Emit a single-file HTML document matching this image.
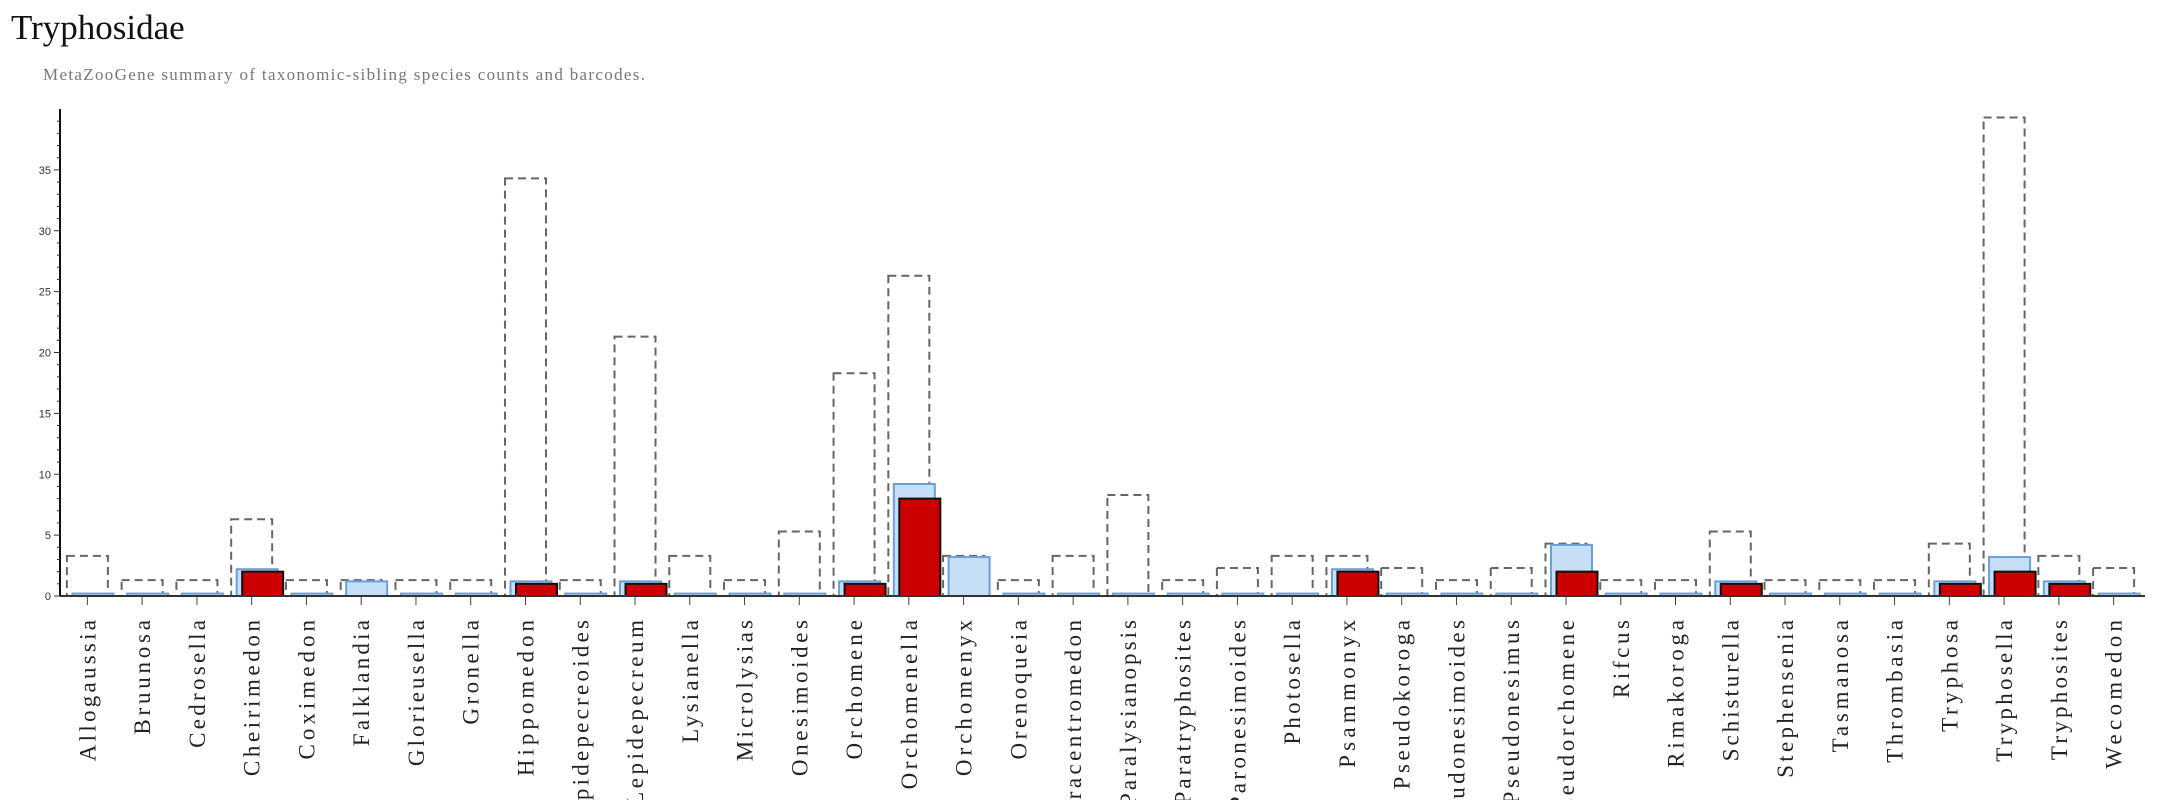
<!DOCTYPE html>
<html><head><meta charset="utf-8"><style>
html,body{margin:0;padding:0;background:#fff;}
svg{display:block;}
</style></head><body>
<svg id="chart" width="2177" height="800" xmlns="http://www.w3.org/2000/svg">
<text x="11" y="39" font-family="Liberation Serif, serif" font-size="35" fill="#111">Tryphosidae</text>
<text x="43" y="80" font-family="Liberation Serif, serif" font-size="17" fill="#777" textLength="602" lengthAdjust="spacing">MetaZooGene summary of taxonomic-sibling species counts and barcodes.</text>
<g id="plot"></g>
</svg>
<script>
const categories = ["Allogaussia","Bruunosa","Cedrosella","Cheirimedon","Coximedon","Falklandia","Glorieusella","Gronella","Hippomedon","Lepidepecreoides","Lepidepecreum","Lysianella","Microlysias","Onesimoides","Orchomene","Orchomenella","Orchomenyx","Orenoqueia","Paracentromedon","Paralysianopsis","Paratryphosites","Paronesimoides","Photosella","Psammonyx","Pseudokoroga","Pseudonesimoides","Pseudonesimus","Pseudorchomene","Rifcus","Rimakoroga","Schisturella","Stephensenia","Tasmanosa","Thrombasia","Tryphosa","Tryphosella","Tryphosites","Wecomedon"];
const speciesCounts = [3,1,1,6,1,1,1,1,34,1,21,3,1,5,18,26,3,1,3,8,1,2,3,3,2,1,2,4,1,1,5,1,1,1,4,39,3,2];
const barcodedSpecies = [0,0,0,2,0,1,0,0,1,0,1,0,0,0,1,9,3,0,0,0,0,0,0,2,0,0,0,4,0,0,1,0,0,0,1,3,1,0];
const regionalSpecies = [0,0,0,2,0,0,0,0,1,0,1,0,0,0,1,8,0,0,0,0,0,0,0,2,0,0,0,2,0,0,1,0,0,0,1,2,1,0];
const yTicks = [0,5,10,15,20,25,30,35];

const NS="http://www.w3.org/2000/svg";
const g=document.getElementById('plot');
const X0=60,X1=2141,Y0=596,Y1=109,YMAX=40;
const step=(X1-X0)/categories.length;
const bw=41;
function xc(i){return X0+step*(i+0.5);}
function y(v){return Y0-(v/YMAX)*(Y0-Y1);}
function mk(tag,attrs){const e=document.createElementNS(NS,tag);for(const k in attrs)e.setAttribute(k,attrs[k]);g.appendChild(e);return e;}

let ax=mk('line',{x1:X0,y1:Y1,x2:X0,y2:Y0,stroke:'#111','stroke-width':2});


for(let v=0;v<=39;v++){
  const t=mk('line',{x1:X0-(v%5===0?6:3),y1:y(v),x2:X0,y2:y(v),stroke:'#333','stroke-width':1});
  
  
}
yTicks.forEach(v=>{
  const t=mk('text',{x:X0-9,y:y(v)+4,'text-anchor':'end','font-family':'Liberation Sans, sans-serif','font-size':11,fill:'#333'});
  t.textContent=v;
  
  
});

const labels=[];
categories.forEach((c,i)=>{
  const cx=xc(i);
  const hs=speciesCounts[i]+0.3;
  const d=mk('rect',{x:cx-bw/2,y:y(hs),width:bw,height:Y0-y(hs),fill:'none',stroke:'#666','stroke-width':2,'stroke-dasharray':'8,5'});
  
  
  const hb=barcodedSpecies[i]+0.2;
  const b=mk('rect',{x:cx-bw/2+5.5,y:y(hb),width:bw,height:Y0-y(hb),fill:'#c6dff7',stroke:'#6a9fd8','stroke-width':2});
  
  
  if(regionalSpecies[i]>0){
    const hr=regionalSpecies[i];
    const r=mk('rect',{x:cx-bw/2+11,y:y(hr),width:bw,height:Y0-y(hr),fill:'#cc0000',stroke:'#111','stroke-width':2});
    
    
  }
  const tk=mk('line',{x1:cx,y1:Y0,x2:cx,y2:Y0+9,stroke:'#444','stroke-width':1});
  
  
  const lb=mk('text',{x:0,y:0,transform:`translate(${cx+8},620) rotate(-90)`,'text-anchor':'end','font-family':'Liberation Serif, serif','font-size':23,fill:'#222'});
  lb.textContent=c;
  
  
  labels.push(lb);
});
labels.forEach(lb=>{
  const L=lb.getComputedTextLength();
  if(L>0){lb.setAttribute('textLength',(L*1.3).toFixed(1));lb.setAttribute('lengthAdjust','spacing');}
});
let xa=mk('line',{x1:X0,y1:Y0,x2:2145,y2:Y0,stroke:'#333','stroke-width':2});


</script>
</body></html>
